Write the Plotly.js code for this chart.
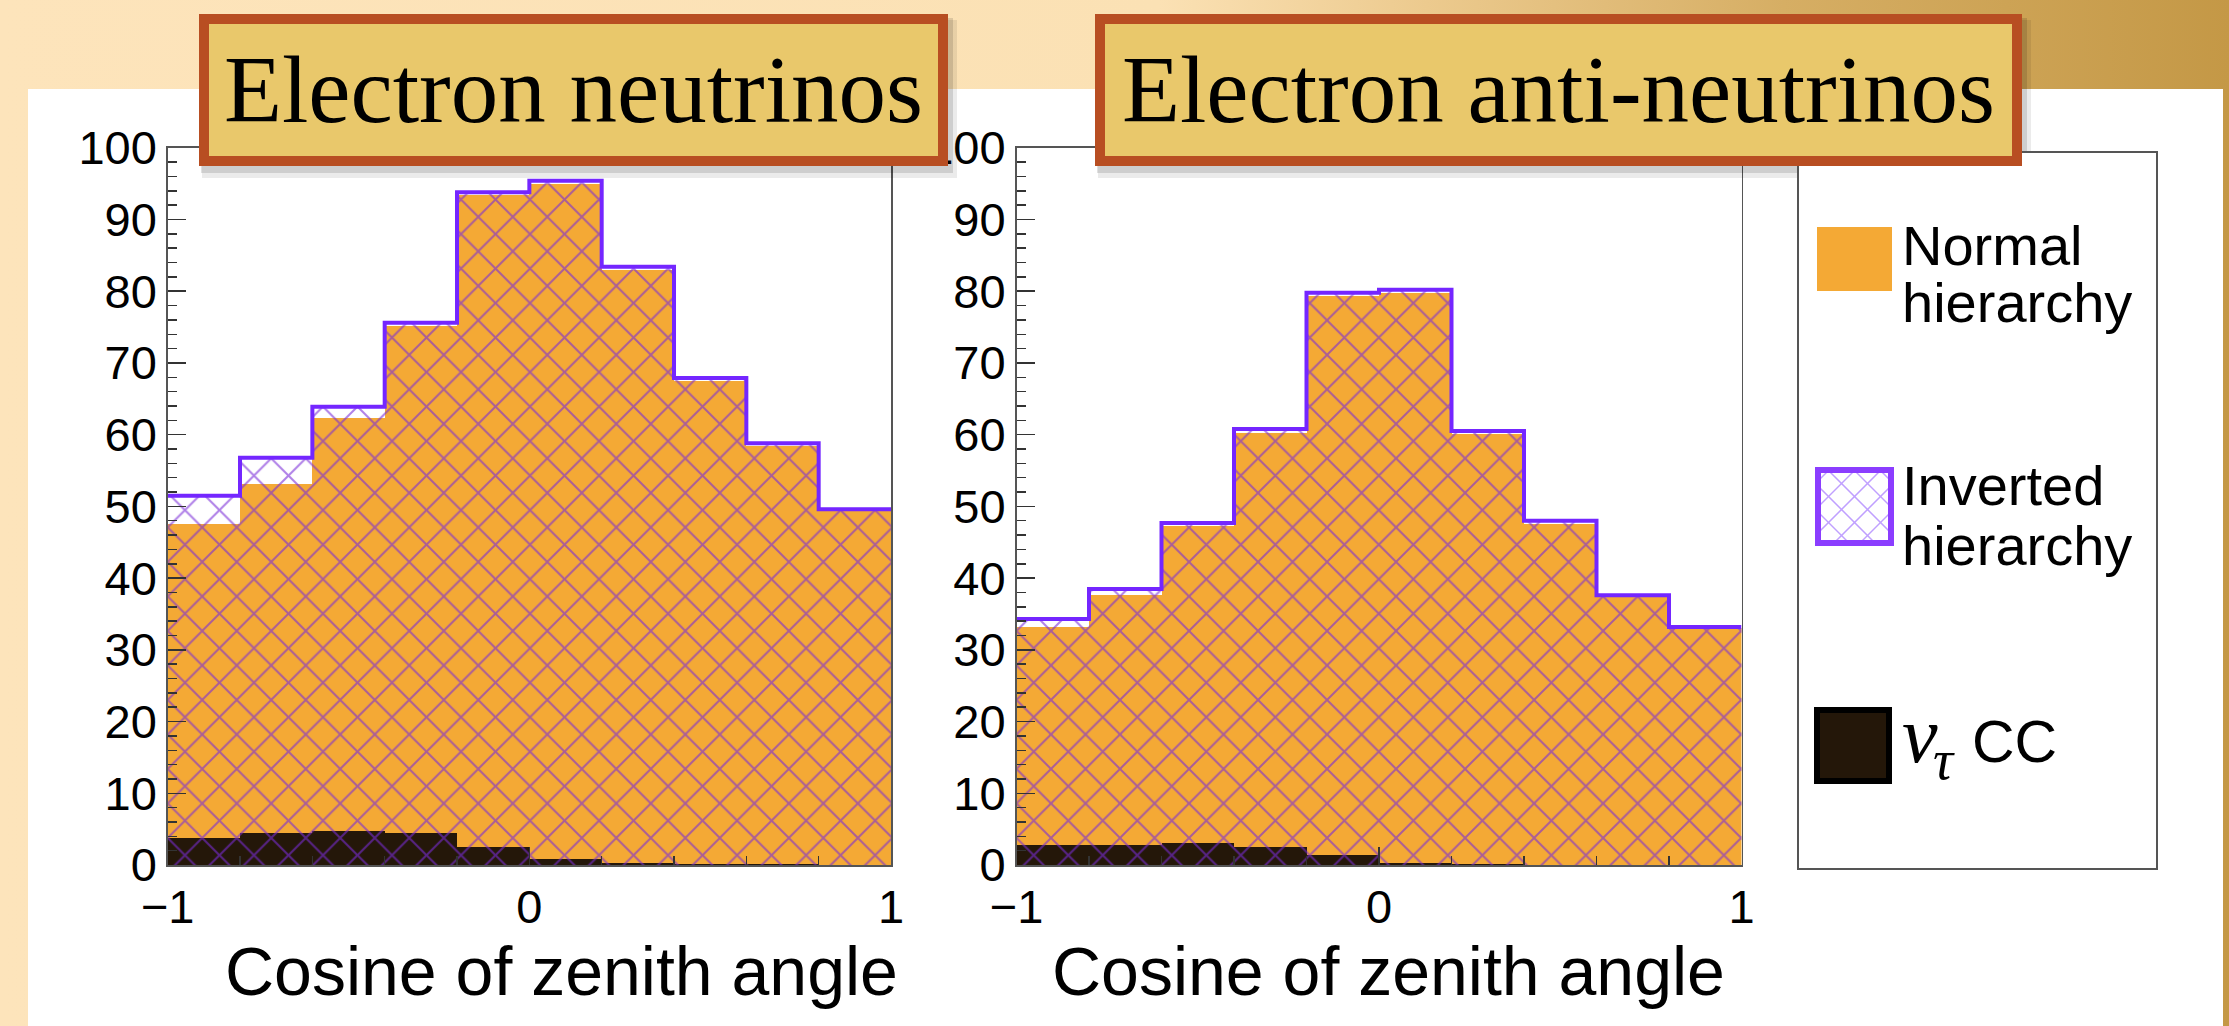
<!DOCTYPE html>
<html><head><meta charset="utf-8">
<script src="https://cdn.plot.ly/plotly-3.0.1.min.js"></script>
<style>
html,body{margin:0;padding:0;}
body{width:2229px;height:1026px;overflow:hidden;position:relative;
background: linear-gradient(to right, #fde4bb 0%, #fbe1b4 52%, #ecca8e 64%, #d6ae64 80%, #c49846 100%);}
#panel{position:absolute;left:28px;top:89px;width:2195px;height:937px;background:#fff;}
#chart{position:absolute;left:0;top:0;width:2229px;height:1026px;}
</style></head><body>
<div id="panel"></div>
<div id="chart"></div>
<script>
// ---- data ----
const binEdges = [-1, -0.8, -0.6, -0.4, -0.2, 0, 0.2, 0.4, 0.6, 0.8, 1];
const nueNormal    = [47.6, 53.1, 62.3, 75.1, 93.4, 94.9, 82.9, 67.5, 58.4, 49.4];
const nueInverted  = [51.5, 56.8, 63.9, 75.6, 93.8, 95.4, 83.4, 67.9, 58.8, 49.6];
const nueTauCC     = [3.8, 4.4, 4.7, 4.4, 2.5, 0.9, 0.3, 0.1, 0.1, 0.0];
const nuebarNormal   = [33.2, 37.7, 47.3, 60.3, 79.4, 79.8, 60.1, 47.6, 37.3, 33.0];
const nuebarInverted = [34.3, 38.5, 47.7, 60.8, 79.8, 80.2, 60.5, 48.0, 37.6, 33.2];
const nuebarTauCC    = [2.8, 2.8, 3.0, 2.5, 1.4, 0.3, 0.1, 0.05, 0.0, 0.0];
const panelTitles = ['Electron neutrinos', 'Electron anti-neutrinos'];
const xTitle = 'Cosine of zenith angle';
const legendLabels = [['Normal', 'hierarchy'], ['Inverted', 'hierarchy']];
const tauLabel = {nu: 'ν', sub: 'τ', rest: 'CC'};

// ---- derived ----
const centers = binEdges.slice(0, -1).map((e, i) => (e + binEdges[i + 1]) / 2);
const widths = binEdges.slice(0, -1).map((e, i) => binEdges[i + 1] - e);

const W = 2229, H = 1026;
const PX = x => x / W, PY = y => 1 - y / H;

const ORANGE = '#f4a935', BLACKISH = '#241709', VIOLET = '#7426ff';
const hatch = {shape: 'x', fgcolor: '#7a2ad8', bgcolor: 'rgba(0,0,0,0)', fgopacity: 0.6, size: 24.4, solidity: 0.16};

function panelTraces(normal, inverted, tau, xa, ya) {
  return [
    {type: 'bar', x: centers, y: normal, width: widths, xaxis: xa, yaxis: ya,
     marker: {color: ORANGE, line: {width: 0}}, opacity: 1, showlegend: false, hoverinfo: 'skip'},
    {type: 'bar', x: centers, y: tau, width: widths, xaxis: xa, yaxis: ya,
     marker: {color: BLACKISH, line: {width: 0}}, opacity: 1, showlegend: false, hoverinfo: 'skip'},
    {type: 'bar', x: centers, y: inverted, width: widths, xaxis: xa, yaxis: ya,
     marker: {color: 'rgba(0,0,0,0)', line: {width: 0}, pattern: hatch}, opacity: 1, showlegend: false, hoverinfo: 'skip'},
    {type: 'scatter', mode: 'lines', x: binEdges, y: inverted.concat([inverted[inverted.length - 1]]),
     xaxis: xa, yaxis: ya, line: {shape: 'hv', color: VIOLET, width: 4}, showlegend: false, hoverinfo: 'skip'}
  ];
}

const data = [].concat(
  panelTraces(nueNormal, nueInverted, nueTauCC, 'x', 'y'),
  panelTraces(nuebarNormal, nuebarInverted, nuebarTauCC, 'x2', 'y2')
);

const tickFont = {family: 'Liberation Sans, Arial, sans-serif', size: 47, color: '#000'};
function xAxis(dom, anchor) {
  return {domain: dom, anchor: anchor, range: [-1, 1], tick0: -1, dtick: 1, ticks: 'inside', ticklen: 18,
    tickwidth: 1.5, tickcolor: '#333', showline: true, linecolor: '#555', linewidth: 1.5, mirror: true,
    showgrid: false, zeroline: false, layer: 'above traces', tickfont: tickFont, fixedrange: true,
    minor: {dtick: 0.2, tick0: -1, ticks: 'inside', ticklen: 9, tickwidth: 1.5, tickcolor: '#333'}};
}
function yAxis(anchor) {
  return {domain: [PY(865), PY(147.8)], anchor: anchor, range: [0, 100], tick0: 0, dtick: 10, ticks: 'inside', ticklen: 18,
    tickwidth: 1.5, tickcolor: '#333', showline: true, linecolor: '#555', linewidth: 1.5, mirror: true,
    showgrid: false, zeroline: false, layer: 'above traces', tickfont: tickFont, fixedrange: true,
    minor: {dtick: 2, ticks: 'inside', ticklen: 9, tickwidth: 1.5, tickcolor: '#333'}};
}

const shapes = [];
const annotations = [];

// title boxes
const titleBoxes = [[199, 948], [1095, 2022]];
titleBoxes.forEach((b, i) => {
  shapes.push({type: 'rect', xref: 'paper', yref: 'paper', x0: PX(b[0] + 3), x1: PX(b[1] + 9), y0: PY(14 + 6), y1: PY(166 + 12),
    fillcolor: 'rgba(0,0,0,0.08)', line: {width: 0}, layer: 'above'});
  shapes.push({type: 'rect', xref: 'paper', yref: 'paper', x0: PX(b[0] + 2), x1: PX(b[1] + 5), y0: PY(14 + 4), y1: PY(166 + 7),
    fillcolor: 'rgba(0,0,0,0.12)', line: {width: 0}, layer: 'above'});
  annotations.push({xref: 'paper', yref: 'paper', x: PX(b[0]), y: PY(14), xanchor: 'left', yanchor: 'top',
    text: panelTitles[i], showarrow: false, width: b[1] - b[0] - 20, height: 132, align: 'center', valign: 'middle',
    bgcolor: '#e9c86b', bordercolor: '#b84e22', borderwidth: 10, borderpad: 0,
    font: {family: 'Liberation Serif, Times New Roman, serif', size: 95, color: '#000'}});
});

// x-axis titles (right-aligned at axis end, ROOT style)
[[900], [1727]].forEach(p => {
  annotations.push({xref: 'paper', yref: 'paper', x: PX(p[0]), y: PY(971), xanchor: 'right', yanchor: 'middle',
    text: xTitle, showarrow: false, font: {family: 'Liberation Sans, Arial, sans-serif', size: 68, color: '#000'}});
});

// legend box
shapes.push({type: 'rect', xref: 'paper', yref: 'paper', x0: PX(1798), x1: PX(2157), y0: PY(869), y1: PY(152),
  fillcolor: '#fff', line: {color: '#555', width: 2}, layer: 'above'});
// swatches
shapes.push({type: 'rect', xref: 'paper', yref: 'paper', x0: PX(1817), x1: PX(1892), y0: PY(291), y1: PY(227),
  fillcolor: ORANGE, line: {width: 0}, layer: 'above'});
const sw = {x0: 1819, x1: 1890, y0: 471, y1: 542};
for (let c = -140; c <= 140; c += 26) {
  let xa = Math.max(sw.x0, sw.x0 - c), xb = Math.min(sw.x1, sw.x0 + (sw.y1 - sw.y0) - c);
  if (xb > xa) shapes.push({type: 'line', xref: 'paper', yref: 'paper', x0: PX(xa), x1: PX(xb),
    y0: PY(sw.y0 + (xa - sw.x0) + c), y1: PY(sw.y0 + (xb - sw.x0) + c), line: {color: '#c0a0ff', width: 1.5}, layer: 'above'});
  let xc = Math.max(sw.x0, sw.x0 + c), xd = Math.min(sw.x1, sw.x0 + (sw.y1 - sw.y0) + c);
  if (xd > xc) shapes.push({type: 'line', xref: 'paper', yref: 'paper', x0: PX(xc), x1: PX(xd),
    y0: PY(sw.y1 - (xc - sw.x0) + c), y1: PY(sw.y1 - (xd - sw.x0) + c), line: {color: '#c0a0ff', width: 1.5}, layer: 'above'});
}
shapes.push({type: 'rect', xref: 'paper', yref: 'paper', x0: PX(1818), x1: PX(1891), y0: PY(543), y1: PY(470),
  fillcolor: 'rgba(0,0,0,0)', line: {color: '#8b3dff', width: 6}, layer: 'above'});
shapes.push({type: 'rect', xref: 'paper', yref: 'paper', x0: PX(1817), x1: PX(1889), y0: PY(781), y1: PY(710),
  fillcolor: BLACKISH, line: {color: '#000', width: 6}, layer: 'above'});

const legFont = {family: 'Liberation Sans, Arial, sans-serif', size: 56, color: '#000'};
const legRows = [[245, 303], [486, 545]];
legendLabels.forEach((lines, i) => {
  lines.forEach((t, j) => {
    annotations.push({xref: 'paper', yref: 'paper', x: PX(1900), y: PY(legRows[i][j]), xanchor: 'left', yanchor: 'middle',
      text: t, showarrow: false, font: legFont, align: 'left'});
  });
});
// ν_τ CC label (pieces placed at their own baselines)
annotations.push({xref: 'paper', yref: 'paper', x: PX(1900), y: PY(735), xanchor: 'left', yanchor: 'middle',
  text: '<i>' + tauLabel.nu + '</i>', showarrow: false, font: {family: 'Liberation Serif, serif', size: 80, color: '#000'}});
annotations.push({xref: 'paper', yref: 'paper', x: PX(1931), y: PY(760), xanchor: 'left', yanchor: 'middle',
  text: '<i>' + tauLabel.sub + '</i>', showarrow: false, font: {family: 'Liberation Serif, serif', size: 56, color: '#000'}});
annotations.push({xref: 'paper', yref: 'paper', x: PX(1970), y: PY(742), xanchor: 'left', yanchor: 'middle',
  text: tauLabel.rest, showarrow: false, font: {family: 'Liberation Sans, Arial, sans-serif', size: 59, color: '#000'}});

const layout = {
  width: W, height: H, margin: {l: 0, r: 0, t: 0, b: 0},
  paper_bgcolor: 'rgba(0,0,0,0)', plot_bgcolor: '#fff',
  barmode: 'overlay', bargap: 0, showlegend: false,
  xaxis: xAxis([PX(167.7), PX(891)], 'y'),
  yaxis: yAxis('x'),
  xaxis2: xAxis([PX(1016.5), PX(1741.5)], 'y2'),
  yaxis2: yAxis('x2'),
  shapes: shapes, annotations: annotations
};

Plotly.newPlot('chart', data, layout, {displayModeBar: false, staticPlot: true});
</script>
</body></html>
